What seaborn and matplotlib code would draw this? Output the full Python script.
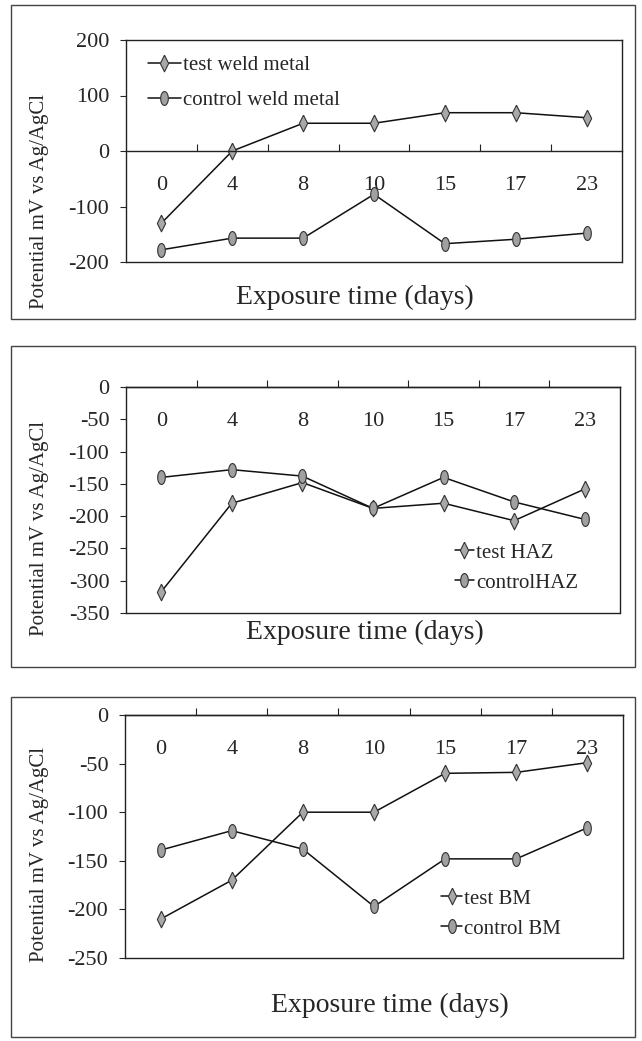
import numpy as np
import pandas as pd
import seaborn as sns
import matplotlib.pyplot as plt
from matplotlib.patches import Rectangle
from matplotlib.ticker import FixedLocator, FixedFormatter, NullFormatter

# Exposure time categories (days)
days = ["0", "4", "8", "10", "15", "17", "23"]

# Weld metal potentials (mV vs Ag/AgCl)
test_weld = [-130, 0, 50, 50, 69, 69, 60]
control_weld = [-178, -157, -157, -78, -167, -159, -148]

# Heat affected zone
test_haz = [-317, -180, -148, -188, -180, -207, -158]
control_haz = [-140, -128, -138, -188, -140, -178, -205]

# Base metal
test_bm = [-210, -170, -100, -100, -60, -59, -49]
control_bm = [-139, -119, -138, -197, -148, -148, -116]

sns.set_style("ticks")
plt.rcParams['font.family'] = ['Liberation Serif', 'DejaVu Serif']
plt.rcParams['axes.unicode_minus'] = False

W, H = 642, 1041
fig = plt.figure(figsize=(W / 100, H / 100), dpi=100)


def rect(x0, y0, x1, y1):
    return [x0 / W, 1 - y1 / H, (x1 - x0) / W, (y1 - y0) / H]


# marker shapes: narrow diamond for test, tall oval for control
thin_diamond = [(0, 1), (0.5, 0), (0, -1), (-0.5, 0), (0, 1)]
t = np.linspace(0, 2 * np.pi, 40)
oval = list(zip(0.55 * np.cos(t), np.sin(t)))

panels = [
    dict(ax=(126, 40, 622, 262), frame=(11, 5, 635, 319), test=test_weld, ctrl=control_weld,
         names=("test weld metal", "control weld metal"), ylim=(-200, 200), step=100,
         xlab=(355, 297), ylab=(40, 201), leg=(0.044, 0.93), hl=1.6, ls=0.75),
    dict(ax=(126, 387, 620, 613), frame=(11, 346, 635, 667), test=test_haz, ctrl=control_haz,
         names=("test HAZ", "controlHAZ"), ylim=(-350, 0), step=50,
         xlab=(365, 632), ylab=(40, 528), leg=(0.666, 0.31), hl=0.9, ls=0.5),
    dict(ax=(125, 715, 623, 958), frame=(11, 697, 635, 1037), test=test_bm, ctrl=control_bm,
         names=("test BM", "control BM"), ylim=(-250, 0), step=50,
         xlab=(390, 1005), ylab=(40, 855), leg=(0.635, 0.284), hl=1.0, ls=0.5),
]

for p in panels:
    ax = fig.add_axes(rect(*p['ax']))
    df = pd.DataFrame({'day': days, 'test': p['test'], 'ctrl': p['ctrl']})

    sns.lineplot(data=df, x='day', y='test', ax=ax, sort=False, color='#111111', lw=1.1,
                 marker=thin_diamond, markersize=12, markerfacecolor='#a8a8a8',
                 markeredgecolor='#333333', markeredgewidth=0.8, label=p['names'][0])
    sns.lineplot(data=df, x='day', y='ctrl', ax=ax, sort=False, color='#111111', lw=1.1,
                 marker=oval, markersize=10, markerfacecolor='#a0a0a0',
                 markeredgecolor='#333333', markeredgewidth=0.8, label=p['names'][1])

    ax.set_xlim(-0.5, len(days) - 0.5)
    ax.set_ylim(*p['ylim'])
    ax.set_yticks(np.arange(p['ylim'][0], p['ylim'][1] + 1, p['step']))
    ax.set_xlabel('')
    ax.set_ylabel('')

    # category axis crosses at zero
    ax.spines['bottom'].set_position(('data', 0))
    for s in ax.spines.values():
        s.set_color('#222222')
        s.set_linewidth(1.0)
    ax.plot([0, 1], [0, 0], transform=ax.transAxes, color='#222222', lw=1.0, clip_on=False)

    ax.xaxis.set_major_locator(FixedLocator(np.arange(0.5, len(days) - 0.5, 1)))
    ax.xaxis.set_major_formatter(NullFormatter())
    ax.xaxis.set_minor_locator(FixedLocator(np.arange(len(days))))
    ax.xaxis.set_minor_formatter(FixedFormatter(days))
    ax.tick_params(axis='x', which='major', direction='in', length=5, width=0.8, color='#222222')
    ax.tick_params(axis='x', which='minor', length=0, pad=18, labelsize=16)
    ax.tick_params(axis='y', direction='out', length=4, width=0.8, pad=8, labelsize=16)

    leg = ax.legend(loc='upper left', bbox_to_anchor=p['leg'], frameon=False, fontsize=15,
                    handlelength=p['hl'], handletextpad=0.1, labelspacing=p['ls'],
                    borderpad=0, borderaxespad=0)

    fig.text(p['xlab'][0] / W, 1 - p['xlab'][1] / H, 'Exposure time (days)',
             ha='center', va='center', fontsize=20)
    fig.text(p['ylab'][0] / W, 1 - p['ylab'][1] / H, 'Potential mV vs Ag/AgCl',
             ha='center', va='center', rotation=90, fontsize=15)

    fx0, fy0, fx1, fy1 = p['frame']
    fig.add_artist(Rectangle((fx0 / W, 1 - fy1 / H), (fx1 - fx0) / W, (fy1 - fy0) / H,
                             transform=fig.transFigure, fill=False, lw=1.0, ec='#444444'))

fig.savefig('out.png', dpi=100, facecolor='white')
